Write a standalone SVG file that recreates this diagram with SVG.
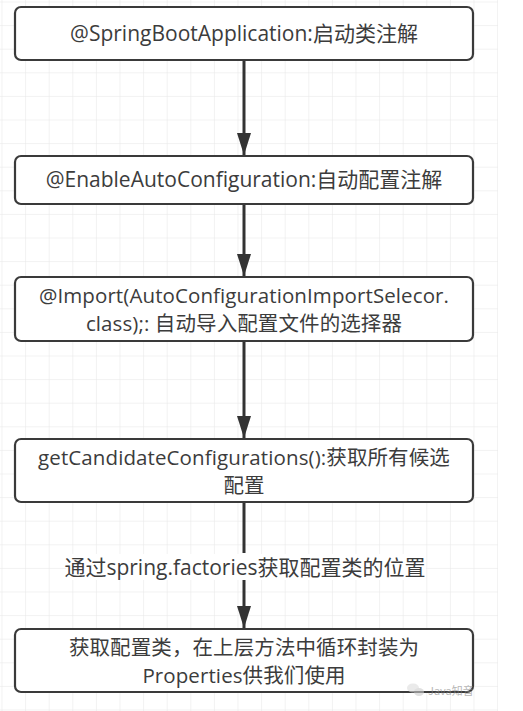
<svg xmlns="http://www.w3.org/2000/svg" width="523" height="711" viewBox="0 0 523 711">
<defs>
<pattern id="grid" x="1.5" y="1.5" width="23.6" height="23.6" patternUnits="userSpaceOnUse">
<path d="M 23.6 0 L 0 0 0 23.6" fill="none" stroke="#e6e6e6" stroke-width="1"/>
</pattern>
<marker id="arr" viewBox="0 0 22 14" refX="22" refY="7" markerWidth="22" markerHeight="14" markerUnits="userSpaceOnUse" orient="auto">
<path d="M0,0 L22,7 L0,14 z" fill="#333"/>
</marker>
<style>
.box{fill:#fff;stroke:#3a3a3a;stroke-width:2.2}
.t{font-family:"Open Sans","Noto Sans CJK SC",sans-serif;font-size:21px;fill:#3c3c3c;text-anchor:middle}
.m{font-size:20.5px;letter-spacing:0.1px}
.e{stroke:#333;stroke-width:3;fill:none}
</style>
</defs>
<rect x="0" y="0" width="523" height="711" fill="#fff"/>
<rect x="0" y="0" width="498" height="711" fill="url(#grid)"/>
<g id="connectors">
<line class="e" x1="244" y1="61" x2="244" y2="155" marker-end="url(#arr)"/>
<line class="e" x1="244" y1="205" x2="244" y2="276" marker-end="url(#arr)"/>
<line class="e" x1="244" y1="342" x2="244" y2="438" marker-end="url(#arr)"/>
<line class="e" x1="244" y1="503" x2="244" y2="553"/>
<line class="e" x1="244" y1="580" x2="244" y2="628" marker-end="url(#arr)"/>
<rect x="66" y="554" width="360" height="26" fill="#fff"/>
<text class="t" x="245" y="575">通过spring.factories获取配置类的位置</text>
</g>
<g id="n1">
<rect class="box" x="15" y="7" width="458" height="53" rx="6"/>
<text class="t" x="244" y="41">@SpringBootApplication:启动类注解</text>
</g>
<g id="n2">
<rect class="box" x="15" y="156" width="458" height="48" rx="6"/>
<text class="t" x="244" y="187">@EnableAutoConfiguration:自动配置注解</text>
</g>
<g id="n3">
<rect class="box" x="15" y="277" width="458" height="64" rx="6"/>
<text class="t m" x="244" y="303">@Import(AutoConfigurationImportSelecor.<tspan x="244" dy="28">class);: 自动导入配置文件的选择器</tspan></text>
</g>
<g id="n4">
<rect class="box" x="15" y="439" width="458" height="63" rx="6"/>
<text class="t m" x="244" y="465">getCandidateConfigurations():获取所有候选<tspan x="244" dy="28">配置</tspan></text>
</g>
<g id="n5">
<rect class="box" x="15" y="629" width="458" height="63" rx="6"/>
<text class="t m" x="244" y="655">获取配置类，在上层方法中循环封装为<tspan x="244" dy="28">Properties供我们使用</tspan></text>
</g>
<g id="watermark" opacity="0.6">
<ellipse cx="413" cy="688" rx="6" ry="4.5" fill="#ddd"/>
<ellipse cx="419" cy="692" rx="5" ry="4" fill="#ccc"/>
<text x="428" y="695" font-family="'Noto Sans CJK SC',sans-serif" font-size="11" fill="#888">Java知音</text>
</g>
</svg>
